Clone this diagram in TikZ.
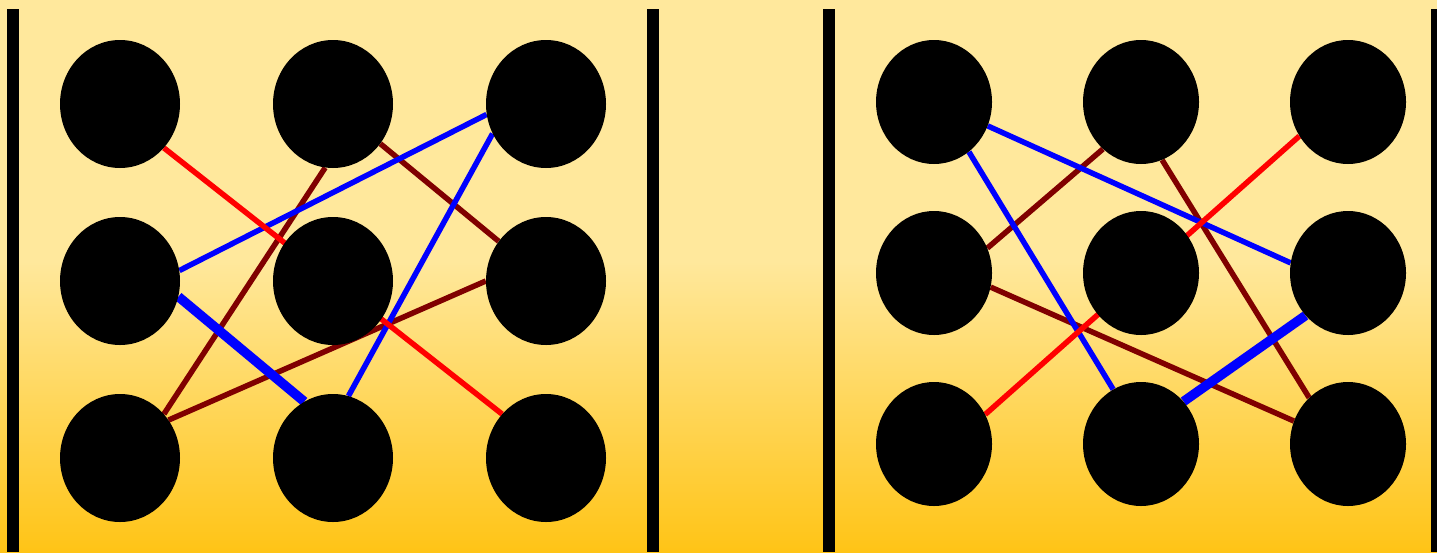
\documentclass[tikz,border=0pt]{standalone}
\usetikzlibrary{shapes.geometric}
\pgfdeclarelayer{back}
\pgfdeclarelayer{lines}
\pgfsetlayers{back,lines,main}
\definecolor{paleY}{HTML}{FFE89C}
\definecolor{goldY}{HTML}{FFC416}
\definecolor{dred}{HTML}{800000}
\tikzset{
  dotL/.style={ellipse, fill=black, minimum width=120pt, minimum height=128pt, inner sep=0pt},
  dotR/.style={ellipse, fill=black, minimum width=116pt, minimum height=124pt, inner sep=0pt},
  ln/.style={line width=5.5pt},
  thk/.style={line width=9.5pt},
  bar/.style={fill=black},
}
\begin{document}
\begin{tikzpicture}[x=1pt,y=-1pt]
\useasboundingbox (0,0) rectangle (1437,552);
% nodes left
\node[dotL] (a1) at (120,104) {};
\node[dotL] (a2) at (333,104) {};
\node[dotL] (a3) at (546,104) {};
\node[dotL] (b1) at (120,281) {};
\node[dotL] (b2) at (333,281) {};
\node[dotL] (b3) at (546,281) {};
\node[dotL] (c1) at (120,458) {};
\node[dotL] (c2) at (333,458) {};
\node[dotL] (c3) at (546,458) {};
% nodes right
\node[dotR] (d1) at (934,102) {};
\node[dotR] (d2) at (1141,102) {};
\node[dotR] (d3) at (1348,102) {};
\node[dotR] (e1) at (934,273) {};
\node[dotR] (e2) at (1141,273) {};
\node[dotR] (e3) at (1348,273) {};
\node[dotR] (f1) at (934,444) {};
\node[dotR] (f2) at (1141,444) {};
\node[dotR] (f3) at (1348,444) {};
\begin{pgfonlayer}{back}
  \fill[paleY] (0,0) rectangle (1437,262);
  \shade[top color=paleY, bottom color=goldY] (0,261) rectangle (1437,552);
  \fill[bar] (7,9) rectangle (19,552);
  \fill[bar] (647,9) rectangle (659,552);
  \fill[bar] (823,9) rectangle (835,552);
  \fill[bar] (1431,9) rectangle (1443,552);
\end{pgfonlayer}
\begin{pgfonlayer}{lines}
  % left panel
  \draw[ln, dred] (a2.263) -- (c1.45);
  \draw[ln, dred] (a2.-40) -- (b3.140);
  \draw[ln, dred] (c1.38) -- (b3.180);
  \draw[ln, blue] (b1.10) -- (a3.190);
  \draw[ln, blue] (a3.209) -- (c2.76);
  \draw[thk, blue] (b1.-15) -- (c2.117);
  \draw[ln, red] (a1.-45) -- (c3.135);
  % right panel
  \draw[ln, dred] (e1.25) -- (d2.231);
  \draw[ln, dred] (d2.-70) -- (f3.130);
  \draw[ln, dred] (e1.-14) -- (f3.157);
  \draw[ln, blue] (d1.-24) -- (e3.170);
  \draw[ln, blue] (d1.-55) -- (f2.117);
  \draw[thk, blue] (f2.45) -- (e3.225);
  \draw[ln, red] (d3.215) -- (f1.30);
\end{pgfonlayer}
\end{tikzpicture}
\end{document}
